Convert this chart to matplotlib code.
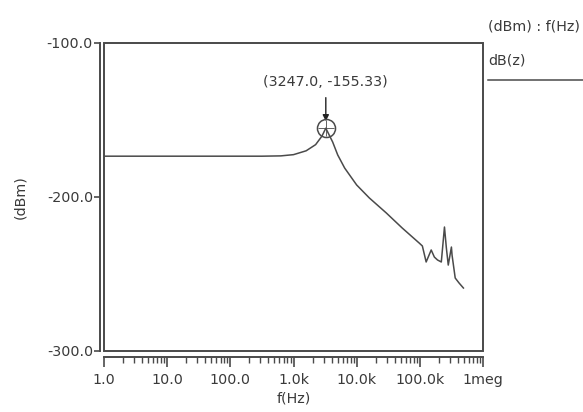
import matplotlib
matplotlib.use("Agg")
import matplotlib.pyplot as plt
from matplotlib.patches import Rectangle
from matplotlib.lines import Line2D
from matplotlib.ticker import FixedLocator, LogLocator, NullFormatter

plt.rcParams['font.family'] = ['DejaVu Sans']

# Noise spectrum dB(z) versus frequency
freq_hz = [1.0, 100.0, 316.0, 631.0, 1000.0, 1585.0, 2239.0, 2818.0, 3247.0,
           4169.0, 5012.0, 6457.0, 10000.0, 15849.0, 29512.0, 52481.0,
           97724.0, 109648.0, 125893.0, 151356.0, 169824.0, 190546.0,
           218776.0, 245471.0, 263027.0, 281838.0, 316228.0, 323594.0,
           363078.0, 416869.0, 489779.0]
level_dbm = [-173.5, -173.5, -173.5, -173.3, -172.5, -170.0, -166.0, -160.5, -155.33,
             -164.3, -172.7, -181.2, -192.2, -200.6, -210.4, -220.1,
             -229.9, -231.8, -242.2, -234.4, -239.0, -240.9,
             -242.2, -219.5, -233.1, -244.2, -232.5, -237.7,
             -252.6, -255.8, -259.1]

peak_f = 3247.0
peak_db = -155.33

x_ticks = [1.0, 10.0, 100.0, 1e3, 1e4, 1e5, 1e6]
x_tick_labels = ["1.0", "10.0", "100.0", "1.0k", "10.0k", "100.0k", "1meg"]
y_ticks = [-100.0, -200.0, -300.0]
y_tick_labels = ["-100.0", "-200.0", "-300.0"]

ink = "#4a4a4a"
text_c = "#3a3a3a"
fs = 10.3

W, H = 583, 412
fig = plt.figure(figsize=(W / 100, H / 100), dpi=100)
left, right, top, bottom = 104, 483, 43, 351
ax = fig.add_axes([left / W, 1 - bottom / H, (right - left) / W, (bottom - top) / H])

ax.plot(freq_hz, level_dbm, color=ink, lw=1.1, solid_joinstyle='round')
ax.set_xscale('log')
ax.set_xlim(1.0, 1e6)
ax.set_ylim(-300, -100)

# plot frame drawn as a box, with the axis lines pushed just outside it
ax.add_patch(Rectangle((0, 0), 1, 1, transform=ax.transAxes, fill=False,
                       edgecolor=ink, lw=1.4, clip_on=False, zorder=5))
for s in ('top', 'right'):
    ax.spines[s].set_visible(False)
ax.spines['left'].set_position(('outward', 3))
ax.spines['bottom'].set_position(('outward', 4))
for s in ('left', 'bottom'):
    ax.spines[s].set_color(ink)
    ax.spines[s].set_linewidth(1.4)

ax.xaxis.set_major_locator(FixedLocator(x_ticks))
ax.set_xticklabels(x_tick_labels)
ax.xaxis.set_minor_locator(LogLocator(base=10, subs=range(2, 10), numticks=20))
ax.xaxis.set_minor_formatter(NullFormatter())
ax.set_yticks(y_ticks)
ax.set_yticklabels(y_tick_labels)
ax.tick_params(axis='x', which='major', direction='out', length=7, width=1.2,
               color=ink, labelcolor=text_c, labelsize=fs, pad=5)
ax.tick_params(axis='x', which='minor', direction='out', length=4, width=1.0,
               color=ink)
ax.tick_params(axis='y', which='major', direction='out', length=4, width=1.2,
               color=ink, labelcolor=text_c, labelsize=fs, pad=1)

ax.set_xlabel("f(Hz)", color=text_c, fontsize=fs, labelpad=3)
fig.text(20 / W, 1 - 197 / H, "(dBm)", rotation=90, color=text_c, fontsize=fs,
         ha='center', va='center')

# peak marker with cross and value readout
ax.plot([peak_f], [peak_db], marker='o', ms=13, mfc='none', mec=ink, mew=1.1,
        zorder=6)
ax.plot([peak_f], [peak_db], marker='+', ms=11, mec=ink, mew=0.6, zorder=6)
ax.annotate("", xy=(peak_f, peak_db), xytext=(0, 22), textcoords='offset points',
            arrowprops=dict(arrowstyle='-|>', color='#222222', lw=1.0,
                            mutation_scale=9, shrinkA=0, shrinkB=5))
ax.annotate(f"({peak_f:.1f}, {peak_db:.2f})", xy=(peak_f, peak_db),
            xytext=(0, 33), textcoords='offset points', ha='center',
            va='center', color=text_c, fontsize=fs)

# legend block at the right
fig.text(488 / W, 1 - 26 / H, "(dBm) : f(Hz)", color=text_c, fontsize=fs,
         ha='left', va='center')
fig.text(488 / W, 1 - 61 / H, "dB(z)", color=text_c, fontsize=fs,
         ha='left', va='center')
fig.add_artist(Line2D([488 / W, 1.0], [1 - 80 / H, 1 - 80 / H],
                      transform=fig.transFigure, color=ink, lw=1.1))

fig.savefig("out.png", dpi=100)
